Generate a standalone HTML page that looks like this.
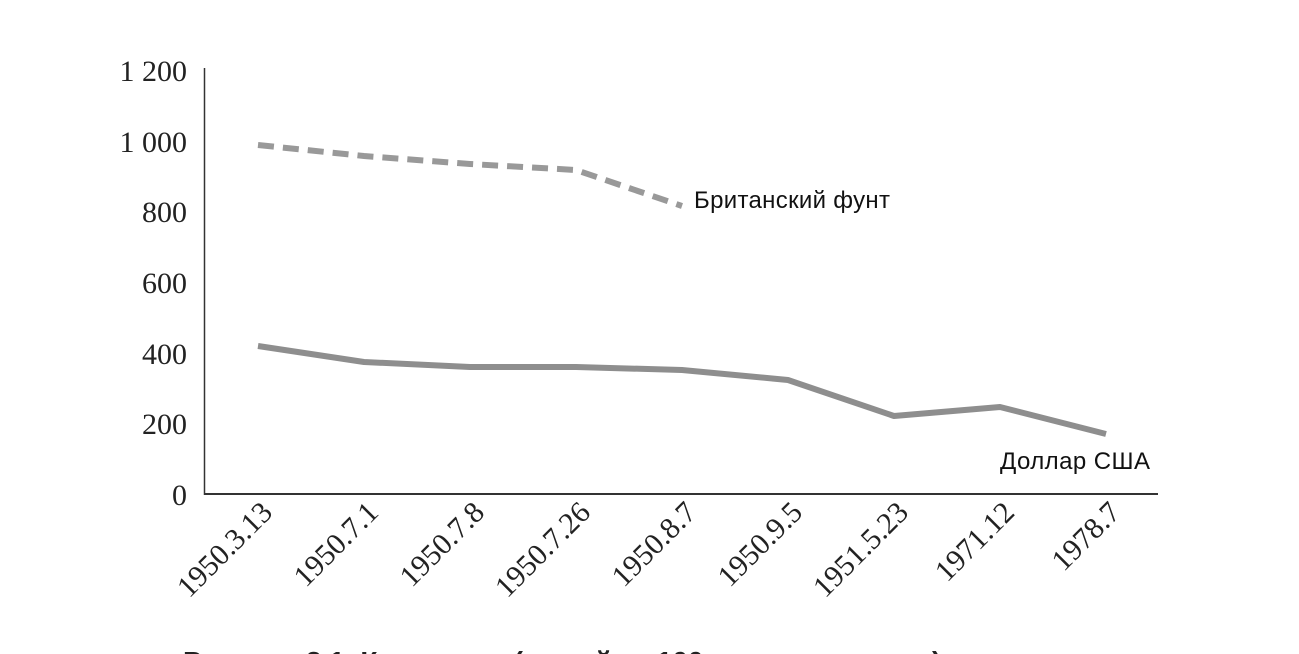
<!DOCTYPE html>
<html><head><meta charset="utf-8"><style>
html,body{margin:0;padding:0;background:#fff;width:1299px;height:654px;overflow:hidden}
</style></head><body>
<svg width="1299" height="654" viewBox="0 0 1299 654" xmlns="http://www.w3.org/2000/svg">
<g font-family="Liberation Serif, serif" font-size="30" fill="#222" text-anchor="end">
<text x="187" y="81">1 200</text>
<text x="187" y="152">1 000</text>
<text x="187" y="222">800</text>
<text x="187" y="293">600</text>
<text x="187" y="364">400</text>
<text x="187" y="434">200</text>
<text x="187" y="505">0</text>
</g>
<line x1="204.5" y1="68" x2="204.5" y2="495" stroke="#333" stroke-width="1.5"/>
<line x1="204" y1="494" x2="1158" y2="494" stroke="#333" stroke-width="2"/>
<polyline points="258,145 364,156 470,164 576,170 682,206" fill="none" stroke="#999" stroke-width="6" stroke-dasharray="16,9"/>
<polyline points="258,346 364,362 470,367 576,367 682,370 788,380 894,416 1000,407 1106,434" fill="none" stroke="#8e8e8e" stroke-width="6" stroke-linejoin="round"/>
<g font-family="Liberation Sans Narrow, Liberation Sans, sans-serif" font-size="24" fill="#111">
<text x="694" y="208" textLength="196">Британский фунт</text>
<text x="1000" y="469" textLength="150">Доллар США</text>
</g>
<g font-family="Liberation Serif, serif" font-size="30" fill="#222" text-anchor="end">
<text transform="translate(274,514) rotate(-45)">1950.3.13</text>
<text transform="translate(380,514) rotate(-45)">1950.7.1</text>
<text transform="translate(486,514) rotate(-45)">1950.7.8</text>
<text transform="translate(592,514) rotate(-45)">1950.7.26</text>
<text transform="translate(698,514) rotate(-45)">1950.8.7</text>
<text transform="translate(804,514) rotate(-45)">1950.9.5</text>
<text transform="translate(910,514) rotate(-45)">1951.5.23</text>
<text transform="translate(1016,514) rotate(-45)">1971.12</text>
<text transform="translate(1122,514) rotate(-45)">1978.7</text>
</g>
<text x="183" y="671" font-family="Liberation Sans, sans-serif" font-size="28" font-weight="bold" fill="#222">Рисунок 2.1. Курс юаня (юаней за 100 единиц валюты)</text>
</svg>
</body></html>
